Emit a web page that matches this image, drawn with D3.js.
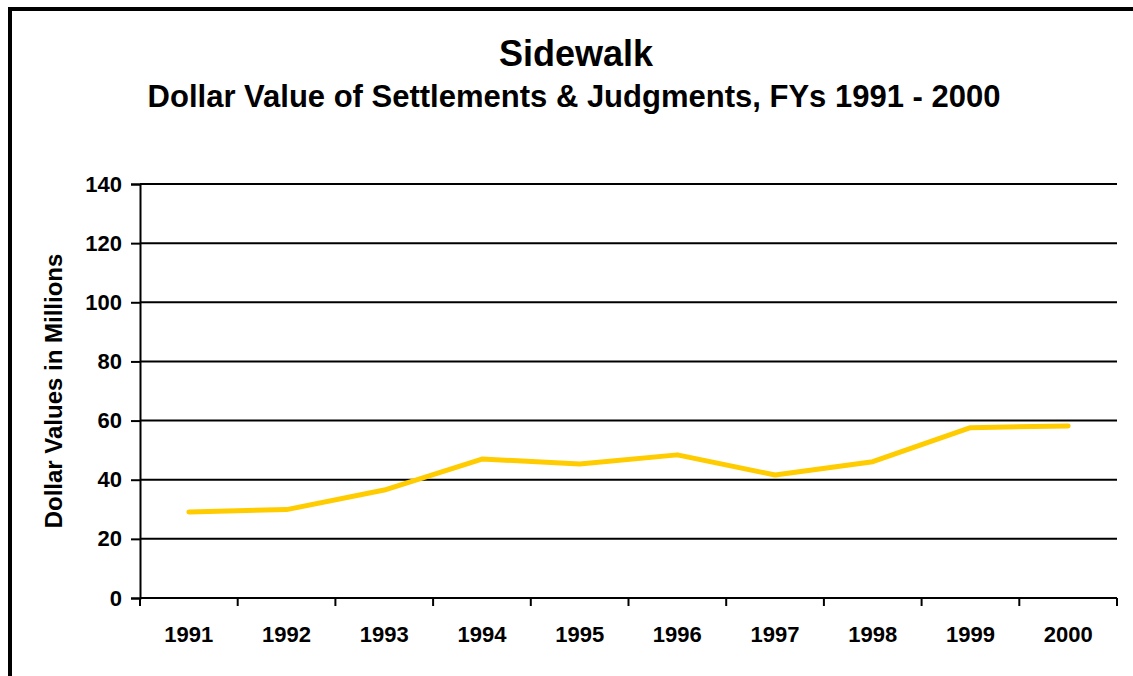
<!DOCTYPE html>
<html>
<head>
<meta charset="utf-8">
<script src="https://cdn.jsdelivr.net/npm/d3@7"></script>
<style>
  html, body { margin: 0; padding: 0; background: #fff; overflow: hidden; }
  text { font-family: Arial, "Liberation Sans", sans-serif; font-weight: bold; fill: #000; }
</style>
</head>
<body>
<script>
(function() {
    'use strict';

    var years = ['1991', '1992', '1993', '1994', '1995', '1996', '1997', '1998', '1999', '2000'];
    var dollars = [29.1, 29.9, 36.5, 47.0, 45.3, 48.4, 41.6, 46.1, 57.6, 58.2];
    var yTicks = [0, 20, 40, 60, 80, 100, 120, 140];

    var width = 1133, height = 676;
    var plot = { left: 140, right: 1117, top: 184, bottom: 598 };

    var svg = d3.select('body').append('svg')
        .attr('width', width)
        .attr('height', height);

    // outer frame (runs off the right and bottom edge)
    svg.append('rect')
        .attr('x', 10)
        .attr('y', 9)
        .attr('width', 1131)
        .attr('height', 720)
        .attr('fill', '#fff')
        .attr('stroke', '#000')
        .attr('stroke-width', 4);

    svg.append('text')
        .attr('x', 576)
        .attr('y', 66)
        .attr('text-anchor', 'middle')
        .style('font-size', '36px')
        .text('Sidewalk');

    svg.append('text')
        .attr('x', 574)
        .attr('y', 107)
        .attr('text-anchor', 'middle')
        .style('font-size', '31px')
        .text('Dollar Value of Settlements & Judgments, FYs 1991 - 2000');

    var x = d3.scaleBand()
        .domain(years)
        .range([plot.left, plot.right])
        .padding(0);

    var y = d3.scaleLinear()
        .domain([0, 140])
        .range([plot.bottom, plot.top]);

    // gridlines
    svg.append('g')
        .selectAll('line')
        .data(yTicks.filter(function(d) { return d > 0; }))
        .enter().append('line')
        .attr('x1', plot.left)
        .attr('x2', plot.right)
        .attr('y1', function(d) { return y(d); })
        .attr('y2', function(d) { return y(d); })
        .attr('stroke', '#000')
        .attr('stroke-width', 2);

    // y axis
    var yAxis = svg.append('g')
        .attr('transform', 'translate(' + plot.left + ',0)')
        .call(d3.axisLeft(y).tickValues(yTicks).tickSize(9).tickPadding(9).tickFormat(d3.format('d')));
    yAxis.select('.domain').attr('stroke', '#000').attr('stroke-width', 2);
    yAxis.selectAll('.tick line').attr('stroke', '#000').attr('stroke-width', 2);
    yAxis.selectAll('.tick text')
        .style('font-size', '22px')
        .style('font-family', 'Arial, "Liberation Sans", sans-serif')
        .attr('fill', '#000');

    // x axis: ticks at category boundaries
    var xAxis = svg.append('g')
        .attr('transform', 'translate(0,' + plot.bottom + ')');
    xAxis.append('line')
        .attr('x1', plot.left)
        .attr('x2', plot.right)
        .attr('stroke', '#000')
        .attr('stroke-width', 2);
    var bounds = years.map(function(d) { return x(d); }).concat([x(years[years.length - 1]) + x.bandwidth()]);
    xAxis.selectAll('.xtick')
        .data(bounds)
        .enter().append('line')
        .attr('class', 'xtick')
        .attr('x1', function(d) { return d; })
        .attr('x2', function(d) { return d; })
        .attr('y1', 0)
        .attr('y2', 8)
        .attr('stroke', '#000')
        .attr('stroke-width', 2);
    xAxis.selectAll('.xlabel')
        .data(years)
        .enter().append('text')
        .attr('class', 'xlabel')
        .attr('x', function(d) { return x(d) + x.bandwidth() / 2; })
        .attr('y', 44)
        .attr('text-anchor', 'middle')
        .style('font-size', '22px')
        .text(function(d) { return d; });

    // y axis title
    svg.append('text')
        .attr('transform', 'translate(62,' + ((plot.top + plot.bottom) / 2) + ') rotate(-90)')
        .attr('text-anchor', 'middle')
        .style('font-size', '24px')
        .text('Dollar Values in Millions');

    // line
    var line = d3.line()
        .x(function(d, i) { return x(years[i]) + x.bandwidth() / 2; })
        .y(function(d) { return y(d); });

    svg.append('path')
        .datum(dollars)
        .attr('d', line)
        .attr('fill', 'none')
        .attr('stroke', '#FFCC00')
        .attr('stroke-width', 5)
        .attr('stroke-linejoin', 'round')
        .attr('stroke-linecap', 'round');

}());
</script>
</body>
</html>
